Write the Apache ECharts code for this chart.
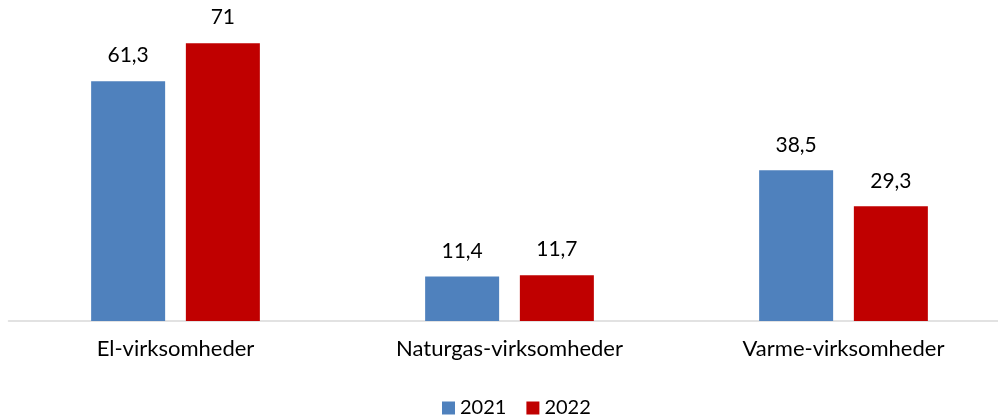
<!DOCTYPE html>
<html><head><meta charset="utf-8">
<script src="https://cdn.jsdelivr.net/npm/echarts@6/dist/echarts.min.js"></script>
<style>html,body{margin:0;padding:0;background:#fff}#c{width:998px;height:417px}</style>
</head><body><div id="c"></div>
<script>
const categories = ['El-virksomheder', 'Naturgas-virksomheder', 'Varme-virksomheder'];
const seriesNames = ['2021', '2022'];
const values2021 = [61.3, 11.4, 38.5];
const values2022 = [71, 11.7, 29.3];

const font = 'Lato, "Liberation Sans", sans-serif';
const fmt = p => String(p.value).replace('.', ',');
const chart = echarts.init(document.getElementById('c'), null, {renderer: 'canvas'});
chart.setOption({
  animation: false,
  grid: {left: 8.5, right: -12.5, top: 8, bottom: 96, outerBoundsMode: 'none', containLabel: false},
  legend: {
    top: 393, left: 437, itemWidth: 13, itemHeight: 13, itemGap: 20,
    icon: 'rect',
    textStyle: {fontFamily: font, fontSize: 20, color: '#000'},
    data: seriesNames
  },
  xAxis: {
    type: 'category', data: categories,
    axisLine: {lineStyle: {color: '#d9d9d9', width: 1.5}},
    axisTick: {show: false},
    axisLabel: {fontFamily: font, fontSize: 22, color: '#000', margin: 17}
  },
  yAxis: {type: 'value', min: 0, max: 80, show: false, splitLine: {show: false}},
  series: [
    {name: seriesNames[0], type: 'bar', data: values2021, barWidth: 74, barGap: '28%',
     itemStyle: {color: '#4f81bd'},
     label: {show: true, position: 'top', distance: 15, formatter: fmt, fontFamily: font, fontSize: 21, color: '#000'}},
    {name: seriesNames[1], type: 'bar', data: values2022, barWidth: 74,
     itemStyle: {color: '#c00000'},
     label: {show: true, position: 'top', distance: 15, formatter: fmt, fontFamily: font, fontSize: 21, color: '#000'}}
  ]
});
</script></body></html>
